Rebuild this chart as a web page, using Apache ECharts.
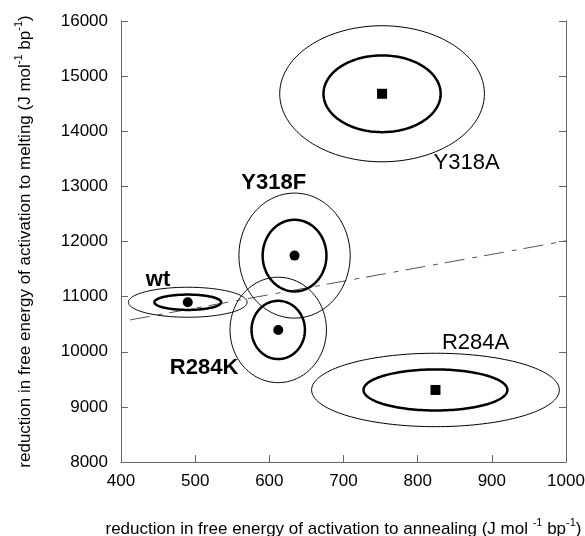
<!DOCTYPE html>
<html>
<head>
<meta charset="utf-8">
<script src="https://cdn.jsdelivr.net/npm/echarts@6/dist/echarts.min.js"></script>
<style>html,body{margin:0;padding:0;background:#fff;}#c{width:585px;height:536px;}</style>
</head>
<body>
<div id="c"></div>
<script>
// ---- data ----
const mutants = ['wt', 'Y318F', 'R284K', 'Y318A', 'R284A'];
const centerX = [490, 634, 612, 752, 824];
const centerY = [10898, 11744, 10396, 14680, 9307];
const innerRx = [45, 43, 36, 79, 97];
const innerRy = [139, 650, 528, 696, 372];
const outerRx = [80, 75, 65, 138, 167];
const outerRy = [272, 1134, 956, 1234, 666];
const labelX = [450, 606, 512, 866, 878];
const labelY = [11303, 13058, 9700, 13426, 10154];
const trendX = [412, 1000];
const trendY = [10577, 12011];
const xTicks = [400, 500, 600, 700, 800, 900, 1000];
const yTicks = [8000, 9000, 10000, 11000, 12000, 13000, 14000, 15000, 16000];

// ---- styles ----
const FONT = '"Liberation Sans", Arial, sans-serif';
const markerSymbol = { wt: 'circle', Y318F: 'circle', R284K: 'circle', Y318A: 'rect', R284A: 'rect' };
const labelBold = { wt: true, Y318F: true, R284K: true, Y318A: false, R284A: false };

function ellipseRenderer(lineWidth) {
  return function (params, api) {
    const c = api.coord([api.value(0), api.value(1)]);
    const s = api.size([api.value(2), api.value(3)]);
    const pts = [];
    const n = 160;
    for (let k = 0; k < n; k++) {
      const a = (k / n) * Math.PI * 2;
      pts.push([c[0] + s[0] * Math.cos(a), c[1] + s[1] * Math.sin(a)]);
    }
    return {
      type: 'polygon',
      shape: { points: pts },
      style: { fill: 'none', stroke: '#000', lineWidth: lineWidth }
    };
  };
}

const chart = echarts.init(document.getElementById('c'), null, { renderer: 'canvas' });

const axisCommon = {
  axisLine: { show: true, lineStyle: { color: '#666', width: 1 } },
  axisTick: { show: true, inside: true, length: 7, lineStyle: { color: '#666' } },
  splitLine: { show: false }
};
const titleRich = {
  n: { fontSize: 17, fontFamily: FONT, color: '#000', lineHeight: 21, verticalAlign: 'bottom' },
  s: { fontSize: 11, fontFamily: FONT, color: '#000', lineHeight: 21, verticalAlign: 'top', padding: [0, 0, 7, 0] }
};
const tickFmt = v => String(v);

chart.setOption({
  animation: false,
  backgroundColor: '#fff',
  textStyle: { fontFamily: FONT },
  grid: { left: 121, right: 19, top: 21, bottom: 74, containLabel: false, outerBoundsMode: 'none' },
  xAxis: Object.assign({
    type: 'value', min: xTicks[0], max: xTicks[xTicks.length - 1], interval: 100,
    position: 'bottom',
    axisLabel: { fontSize: 17, color: '#000', margin: 11, fontFamily: FONT, formatter: tickFmt },
    name: '{n|reduction in free energy of activation to annealing (J mol }{s|-1}{n| bp}{s|-1}{n|)}',
    nameLocation: 'middle', nameGap: 55,
    nameTextStyle: { fontFamily: FONT, color: '#000', rich: titleRich }
  }, axisCommon),
  yAxis: [
    Object.assign({
      type: 'value', min: yTicks[0], max: yTicks[yTicks.length - 1], interval: 1000,
      position: 'left',
      axisLabel: { fontSize: 17, color: '#000', margin: 13, fontFamily: FONT, formatter: tickFmt },
      name: '{n|reduction in free energy of activation to melting (J mol}{s|-1}{n| bp}{s|-1}{n|)}',
      nameLocation: 'middle', nameGap: 87, nameRotate: 90,
      nameTextStyle: { fontFamily: FONT, color: '#000', rich: titleRich }
    }, axisCommon),
    Object.assign({
      type: 'value', min: yTicks[0], max: yTicks[yTicks.length - 1], interval: 1000,
      position: 'right',
      axisLabel: { show: false }
    }, axisCommon)
  ],
  series: [
    {
      type: 'line',
      data: trendX.map((x, i) => [x, trendY[i]]),
      symbol: 'none',
      lineStyle: { color: '#555', width: 1, type: [20, 8, 5, 7] },
      z: 1
    },
    {
      type: 'custom',
      renderItem: ellipseRenderer(1),
      data: mutants.map((m, i) => [centerX[i], centerY[i], outerRx[i], outerRy[i]]),
      z: 2
    },
    {
      type: 'custom',
      renderItem: ellipseRenderer(2.5),
      data: mutants.map((m, i) => [centerX[i], centerY[i], innerRx[i], innerRy[i]]),
      z: 3
    },
    {
      type: 'scatter',
      data: mutants.map((m, i) => ({ value: [centerX[i], centerY[i]], symbol: markerSymbol[m] })),
      symbolSize: 10,
      itemStyle: { color: '#000', opacity: 1 },
      z: 4
    },
    {
      type: 'scatter',
      data: mutants.map((m, i) => ({
        value: [labelX[i], labelY[i]],
        label: {
          show: true, position: 'inside', formatter: m,
          fontSize: 22, fontFamily: FONT, color: '#000',
          fontWeight: labelBold[m] ? 'bold' : 'normal'
        }
      })),
      symbolSize: 0,
      itemStyle: { color: 'transparent', opacity: 1 },
      z: 5
    }
  ]
});
</script>
</body>
</html>
